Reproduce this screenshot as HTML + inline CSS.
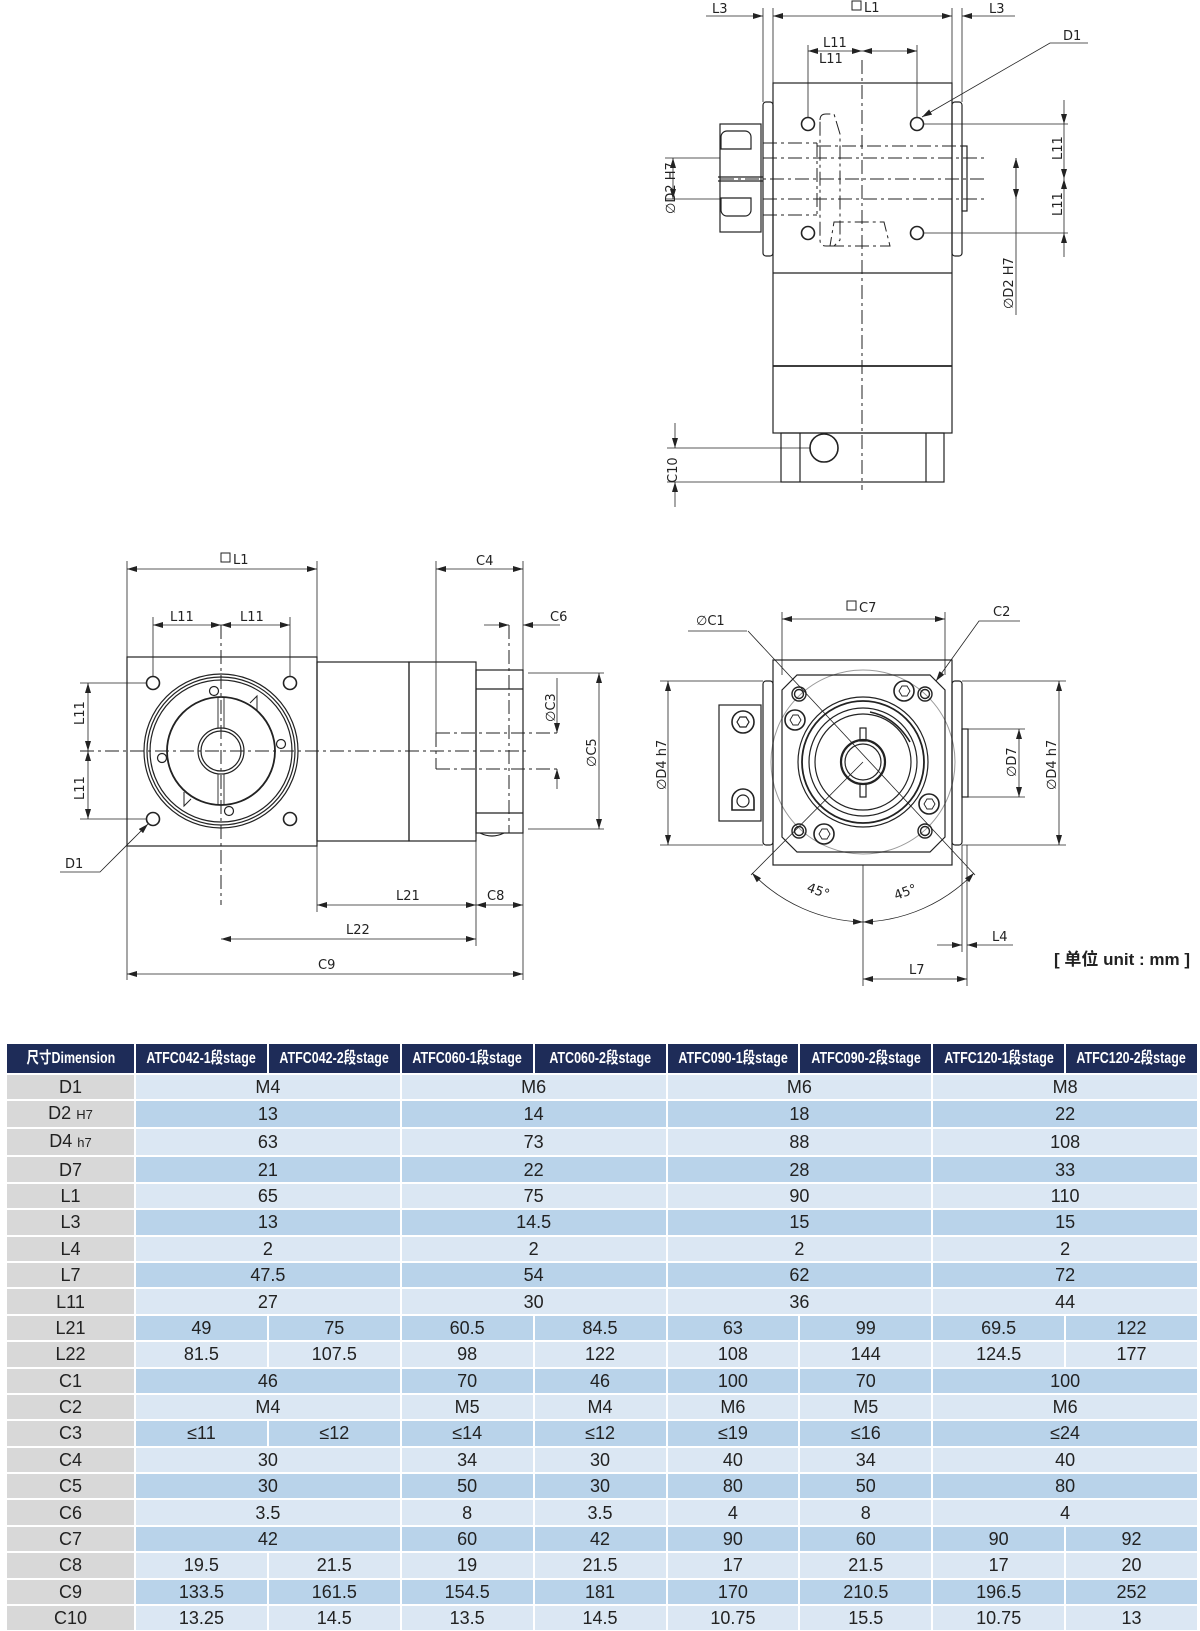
<!DOCTYPE html>
<html><head><meta charset="utf-8">
<style>
html,body{margin:0;padding:0;background:#fff;}
body{width:1200px;height:1631px;position:relative;overflow:hidden;}
svg{position:absolute;left:0;top:0;}
svg text{font-family:"DejaVu Sans","Liberation Sans",sans-serif;font-size:13px;fill:#222;}
table{position:absolute;left:6px;top:1043px;width:1192px;border-collapse:separate;border-spacing:0;table-layout:fixed;}
td,th{border:1px solid #fff;padding:0;text-align:center;font-family:"Liberation Sans",sans-serif;font-size:18px;color:#222;height:24.4px;line-height:24px;}
th{background:#1e2c58;color:#fff;font-family:"Liberation Sans","Noto Sans CJK SC",sans-serif;font-weight:bold;font-size:16px;height:29px;white-space:nowrap;overflow:hidden;}
th span{display:inline-block;transform:scaleX(0.78);transform-origin:center;margin:0 -20px;}
td.l{background:#d8d8d8;}
tr.a td{background:#dbe7f3;}
tr.b td{background:#b9d3ea;}
tr.a td.l,tr.b td.l{background:#d8d8d8;}
small{font-size:13px;}
.u{position:absolute;left:1054px;top:945px;font-family:"Liberation Sans","Noto Sans CJK SC",sans-serif;font-weight:bold;font-size:17px;color:#222;}
</style></head><body>
<svg width="1200" height="1040" viewBox="0 0 1200 1040">
<defs>
<marker id="a" viewBox="0 0 10 6" refX="10" refY="3" markerWidth="10" markerHeight="6" orient="auto-start-reverse" markerUnits="userSpaceOnUse"><path d="M0,0L10,3L0,6z" fill="#222"/></marker>
</defs>
<g fill="none" stroke="#222" stroke-width="1.2">
<rect x="773" y="83" width="179" height="350"/>
<line x1="773" y1="273" x2="952" y2="273"/>
<line x1="773" y1="366" x2="952" y2="366" stroke-width="1.8"/>
<rect x="763" y="102" width="10" height="154" rx="3"/>
<rect x="952" y="102" width="10" height="154" rx="3"/>
<rect x="720" y="124" width="41" height="108"/>
<path d="M727,131h18a6,6 0 0 1 6,6v12h-30v-12a6,6 0 0 1 6,-6z"/>
<path d="M721,198h30v12a6,6 0 0 1 -6,6h-18a6,6 0 0 1 -6,-6z"/>
<line x1="718" y1="177" x2="763" y2="177"/><line x1="718" y1="181" x2="763" y2="181"/>
<rect x="962" y="146" width="5" height="65"/>
<rect x="781" y="433" width="163" height="49"/>
<line x1="800" y1="433" x2="800" y2="482"/><line x1="926" y1="433" x2="926" y2="482"/>
<circle cx="824" cy="448" r="14" stroke-width="1.6"/>
<circle cx="808" cy="124" r="6.5" stroke-width="1.6"/><circle cx="917" cy="124" r="6.5" stroke-width="1.6"/>
<circle cx="808" cy="233" r="6.5" stroke-width="1.6"/><circle cx="917" cy="233" r="6.5" stroke-width="1.6"/>
<g stroke-dasharray="14,4,3,4" stroke-width="1">
<line x1="862" y1="60" x2="862" y2="490"/>
<line x1="720" y1="179" x2="985" y2="179"/>
<line x1="763" y1="158" x2="985" y2="158"/>
<line x1="763" y1="199" x2="985" y2="199"/>
<line x1="763" y1="143" x2="817" y2="143"/><line x1="763" y1="215" x2="817" y2="215"/>
<line x1="817" y1="143" x2="817" y2="215"/>
<line x1="817" y1="146" x2="966" y2="146"/>
<path d="M820,120q0,-6 6,-6h8l6,20v106l-6,6h-8q-6,0 -6,-6z"/>
<path d="M830,246h60l-6,-24h-50z"/>
</g>
<line x1="763" y1="8" x2="763" y2="102" stroke-width="0.8"/><line x1="773" y1="8" x2="773" y2="83" stroke-width="0.8"/>
<line x1="952" y1="8" x2="952" y2="83" stroke-width="0.8"/><line x1="962" y1="8" x2="962" y2="102" stroke-width="0.8"/>
<line x1="706" y1="16" x2="763" y2="16" stroke-width="0.8" marker-end="url(#a)"/>
<line x1="773" y1="16" x2="952" y2="16" stroke-width="0.8" marker-start="url(#a)" marker-end="url(#a)"/>
<line x1="1015" y1="16" x2="962" y2="16" stroke-width="0.8" marker-end="url(#a)"/>
<line x1="808" y1="45" x2="808" y2="118" stroke-width="0.8"/><line x1="917" y1="45" x2="917" y2="118" stroke-width="0.8"/>
<line x1="808" y1="51" x2="862" y2="51" stroke-width="0.8" marker-start="url(#a)" marker-end="url(#a)"/>
<line x1="862" y1="51" x2="917" y2="51" stroke-width="0.8" marker-start="url(#a)" marker-end="url(#a)"/>
<path d="M1088,43H1050L922,117" stroke-width="0.8" marker-end="url(#a)"/>
<line x1="924" y1="124" x2="1068" y2="124" stroke-width="0.8"/><line x1="924" y1="233" x2="1068" y2="233" stroke-width="0.8"/>
<line x1="1064" y1="100" x2="1064" y2="124" stroke-width="0.8" marker-end="url(#a)"/>
<line x1="1064" y1="124" x2="1064" y2="179" stroke-width="0.8" marker-end="url(#a)"/>
<line x1="1064" y1="233" x2="1064" y2="179" stroke-width="0.8" marker-end="url(#a)"/>
<line x1="1064" y1="257" x2="1064" y2="233" stroke-width="0.8" marker-end="url(#a)"/>
<line x1="1016" y1="158" x2="1016" y2="315" stroke-width="0.8"/>
<line x1="1016" y1="185" x2="1016" y2="158" stroke-width="0.8" marker-end="url(#a)"/>
<line x1="1016" y1="185" x2="1016" y2="199" stroke-width="0.8" marker-end="url(#a)"/>
<line x1="665" y1="158" x2="720" y2="158" stroke-width="0.8"/><line x1="665" y1="199" x2="720" y2="199" stroke-width="0.8"/>
<line x1="673" y1="178" x2="673" y2="158" stroke-width="0.8" marker-end="url(#a)"/>
<line x1="673" y1="178" x2="673" y2="199" stroke-width="0.8" marker-end="url(#a)"/>
<line x1="667" y1="448" x2="810" y2="448" stroke-width="0.8"/><line x1="667" y1="482" x2="781" y2="482" stroke-width="0.8"/>
<line x1="675" y1="423" x2="675" y2="448" stroke-width="0.8" marker-end="url(#a)"/>
<line x1="675" y1="507" x2="675" y2="482" stroke-width="0.8" marker-end="url(#a)"/>

<rect x="127" y="657" width="190" height="189"/>
<circle cx="221" cy="751" r="77"/><circle cx="221" cy="751" r="74"/><circle cx="221" cy="751" r="71"/>
<circle cx="221" cy="751" r="54" stroke-width="1.8"/>
<circle cx="221" cy="751" r="23"/><circle cx="221" cy="751" r="20"/>
<path d="M250,703l7,-7v14M191,799l-7,7v-14" stroke-width="1"/>
<rect x="218" y="697" width="6" height="31" stroke-width="0.9"/><rect x="218" y="774" width="6" height="31" stroke-width="0.9"/>
<circle cx="214" cy="691" r="4.5"/><circle cx="281" cy="744" r="4.5"/><circle cx="162" cy="758" r="4.5"/><circle cx="229" cy="811" r="4.5"/>
<circle cx="153" cy="683" r="6.5" stroke-width="1.6"/><circle cx="290" cy="683" r="6.5" stroke-width="1.6"/>
<circle cx="153" cy="819" r="6.5" stroke-width="1.6"/><circle cx="290" cy="819" r="6.5" stroke-width="1.6"/>
<rect x="317" y="662" width="92" height="179"/>
<rect x="409" y="662" width="67" height="179"/>
<rect x="476" y="670" width="47" height="163"/>
<line x1="476" y1="689" x2="523" y2="689"/><line x1="476" y1="813" x2="523" y2="813"/>
<path d="M480,833q12,6 24,0" />
<g stroke-dasharray="14,4,3,4" stroke-width="1">
<line x1="80" y1="751" x2="530" y2="751"/>
<line x1="221" y1="625" x2="221" y2="905"/>
<line x1="509" y1="625" x2="509" y2="833"/>
<line x1="436" y1="733" x2="560" y2="733"/><line x1="436" y1="769" x2="560" y2="769"/>
<line x1="436" y1="733" x2="436" y2="769"/>
</g>
<g stroke-width="0.8">
<line x1="127" y1="561" x2="127" y2="980"/><line x1="317" y1="561" x2="317" y2="657"/>
<line x1="127" y1="569" x2="317" y2="569" marker-start="url(#a)" marker-end="url(#a)"/>
<line x1="436" y1="561" x2="436" y2="733"/><line x1="523" y1="561" x2="523" y2="980"/>
<line x1="436" y1="569" x2="523" y2="569" marker-start="url(#a)" marker-end="url(#a)"/>
<line x1="153" y1="617" x2="153" y2="677"/><line x1="290" y1="617" x2="290" y2="677"/>
<line x1="153" y1="625" x2="221" y2="625" marker-start="url(#a)" marker-end="url(#a)"/>
<line x1="221" y1="625" x2="290" y2="625" marker-start="url(#a)" marker-end="url(#a)"/>
<line x1="484" y1="625" x2="509" y2="625" marker-end="url(#a)"/>
<line x1="560" y1="625" x2="523" y2="625" marker-end="url(#a)"/>
<line x1="80" y1="683" x2="147" y2="683"/><line x1="80" y1="819" x2="147" y2="819"/>
<line x1="88" y1="683" x2="88" y2="751" marker-start="url(#a)" marker-end="url(#a)"/>
<line x1="88" y1="751" x2="88" y2="819" marker-start="url(#a)" marker-end="url(#a)"/>
<path d="M60,872H100L148,824" marker-end="url(#a)"/>
<line x1="317" y1="846" x2="317" y2="912"/><line x1="476" y1="841" x2="476" y2="946"/>
<line x1="317" y1="905" x2="476" y2="905" marker-start="url(#a)" marker-end="url(#a)"/>
<line x1="476" y1="905" x2="523" y2="905" marker-start="url(#a)" marker-end="url(#a)"/>
<line x1="221" y1="939" x2="476" y2="939" marker-start="url(#a)" marker-end="url(#a)"/>
<line x1="127" y1="974" x2="523" y2="974" marker-start="url(#a)" marker-end="url(#a)"/>
<line x1="528" y1="673" x2="604" y2="673"/><line x1="528" y1="829" x2="604" y2="829"/>
<line x1="599" y1="673" x2="599" y2="829" marker-start="url(#a)" marker-end="url(#a)"/>
<line x1="557" y1="678" x2="557" y2="733" marker-end="url(#a)"/>
<line x1="557" y1="789" x2="557" y2="769" marker-end="url(#a)"/>
</g>

<circle cx="863" cy="762" r="92" stroke="#999" stroke-width="1"/>
<rect x="773" y="660" width="179" height="205"/>
<path d="M797,675H930L945,690V837L930,852H797L782,837V690z"/>
<rect x="763" y="681" width="10" height="164" rx="3"/>
<rect x="952" y="681" width="10" height="164" rx="3"/>
<rect x="719" y="705" width="42" height="116"/>
<circle cx="743" cy="722" r="11" stroke-width="1.6"/><path d="M737,722l3,-5h6l3,5l-3,5h-6z"/>
<path d="M732,800a11,11 0 1 1 22,0v10h-22z" stroke-width="1.6"/><circle cx="743" cy="801" r="6"/>
<rect x="962" y="729" width="6" height="68"/>
<circle cx="863" cy="762" r="65"/><circle cx="863" cy="762" r="61" stroke-width="1.8"/>
<circle cx="863" cy="762" r="54"/><circle cx="863" cy="762" r="48"/>
<circle cx="863" cy="762" r="22" stroke-width="2.2"/><circle cx="863" cy="762" r="18"/>
<rect x="860" y="728" width="6" height="13"/><rect x="860" y="784" width="6" height="13"/>
<path d="M870,712q25,5 40,30" stroke-width="1.6"/>
<g stroke-width="1.6">
<circle cx="795" cy="720" r="10"/><circle cx="904" cy="691" r="10"/><circle cx="929" cy="804" r="10"/><circle cx="824" cy="834" r="10"/>
</g>
<path d="M790,720l3,-5h5l3,5l-3,5h-5zM899,691l3,-5h5l3,5l-3,5h-5zM924,804l3,-5h5l3,5l-3,5h-5zM819,834l3,-5h5l3,5l-3,5h-5z" stroke-width="0.9"/>
<g stroke-width="1.4">
<circle cx="799" cy="694" r="7"/><circle cx="925" cy="694" r="7"/><circle cx="799" cy="831" r="7"/><circle cx="925" cy="831" r="7"/>
<circle cx="799" cy="694" r="4.5"/><circle cx="925" cy="694" r="4.5"/><circle cx="799" cy="831" r="4.5"/><circle cx="925" cy="831" r="4.5"/>
</g>
<g stroke-width="0.8">
<line x1="748" y1="631" x2="975" y2="875"/>
<line x1="751" y1="875" x2="863" y2="762"/>
<path d="M688,631H747"/>
<path d="M1020,621H979L936,681" marker-end="url(#a)"/>
<line x1="782" y1="612" x2="782" y2="675"/><line x1="945" y1="612" x2="945" y2="675"/>
<line x1="782" y1="619" x2="945" y2="619" marker-start="url(#a)" marker-end="url(#a)"/>
<line x1="660" y1="681" x2="763" y2="681"/><line x1="660" y1="845" x2="763" y2="845"/>
<line x1="668" y1="681" x2="668" y2="845" marker-start="url(#a)" marker-end="url(#a)"/>
<line x1="962" y1="681" x2="1066" y2="681"/><line x1="962" y1="845" x2="1066" y2="845"/>
<line x1="1059" y1="681" x2="1059" y2="845" marker-start="url(#a)" marker-end="url(#a)"/>
<line x1="968" y1="729" x2="1025" y2="729"/><line x1="968" y1="797" x2="1025" y2="797"/>
<line x1="1019" y1="729" x2="1019" y2="797" marker-start="url(#a)" marker-end="url(#a)"/>
<line x1="863" y1="865" x2="863" y2="986"/>
<line x1="962" y1="845" x2="962" y2="952"/><line x1="967" y1="845" x2="967" y2="986"/>
<path d="M752,873A160,160 0 0 0 863,922" marker-start="url(#a)" marker-end="url(#a)"/>
<path d="M974,873A160,160 0 0 1 863,922" marker-start="url(#a)" marker-end="url(#a)"/>
<line x1="937" y1="945" x2="962" y2="945" marker-end="url(#a)"/>
<line x1="1013" y1="945" x2="967" y2="945" marker-end="url(#a)"/>
<line x1="863" y1="979" x2="967" y2="979" marker-start="url(#a)" marker-end="url(#a)"/>
</g>
</g>
<g>
<text x="712" y="13">L3</text>
<rect x="852" y="1" width="9" height="9" fill="none" stroke="#222" stroke-width="1"/><text x="864" y="12">L1</text>
<text x="989" y="13">L3</text>
<text x="1063" y="40">D1</text>
<text x="823" y="47">L11</text><text x="819" y="63">L11</text>
<text transform="translate(1062,160) rotate(-90)">L11</text>
<text transform="translate(1062,216) rotate(-90)">L11</text>
<text transform="translate(675,214) rotate(-90)">∅D2 H7</text>
<text transform="translate(1013,309) rotate(-90)">∅D2 H7</text>
<text transform="translate(677,483) rotate(-90)">C10</text>
<rect x="221" y="553" width="9" height="9" fill="none" stroke="#222" stroke-width="1"/><text x="233" y="564">L1</text>
<text x="476" y="565">C4</text>
<text x="170" y="621">L11</text><text x="240" y="621">L11</text>
<text x="550" y="621">C6</text>
<text transform="translate(84,725) rotate(-90)">L11</text>
<text transform="translate(84,800) rotate(-90)">L11</text>
<text x="65" y="868">D1</text>
<text transform="translate(555,722) rotate(-90)">∅C3</text>
<text transform="translate(596,767) rotate(-90)">∅C5</text>
<text x="396" y="900">L21</text><text x="487" y="900">C8</text>
<text x="346" y="934">L22</text><text x="318" y="969">C9</text>
<text x="696" y="625">∅C1</text>
<rect x="847" y="601" width="9" height="9" fill="none" stroke="#222" stroke-width="1"/><text x="859" y="612">C7</text>
<text x="993" y="616">C2</text>
<text transform="translate(666,790) rotate(-90)">∅D4 h7</text>
<text transform="translate(1056,790) rotate(-90)">∅D4 h7</text>
<text transform="translate(1016,777) rotate(-90)">∅D7</text>
<text transform="translate(806,891) rotate(20)" font-size="11">45°</text>
<text transform="translate(896,900) rotate(-20)" font-size="11">45°</text>
<text x="992" y="941">L4</text>
<text x="909" y="974">L7</text>
</g>
</svg>
<div class="u">[ 单位 unit : mm ]</div>
<table>
<colgroup><col style="width:129px"><col><col><col><col><col><col><col><col></colgroup>
<tr><th><span>尺寸Dimension</span></th><th><span>ATFC042-1段stage</span></th><th><span>ATFC042-2段stage</span></th><th><span>ATFC060-1段stage</span></th><th><span>ATC060-2段stage</span></th><th><span>ATFC090-1段stage</span></th><th><span>ATFC090-2段stage</span></th><th><span>ATFC120-1段stage</span></th><th><span>ATFC120-2段stage</span></th></tr>
<tr class="a"><td class="l">D1</td><td colspan="2">M4</td><td colspan="2">M6</td><td colspan="2">M6</td><td colspan="2">M8</td></tr>
<tr class="b"><td class="l">D2 <small>H7</small></td><td colspan="2">13</td><td colspan="2">14</td><td colspan="2">18</td><td colspan="2">22</td></tr>
<tr class="a"><td class="l">D4 <small>h7</small></td><td colspan="2">63</td><td colspan="2">73</td><td colspan="2">88</td><td colspan="2">108</td></tr>
<tr class="b"><td class="l">D7</td><td colspan="2">21</td><td colspan="2">22</td><td colspan="2">28</td><td colspan="2">33</td></tr>
<tr class="a"><td class="l">L1</td><td colspan="2">65</td><td colspan="2">75</td><td colspan="2">90</td><td colspan="2">110</td></tr>
<tr class="b"><td class="l">L3</td><td colspan="2">13</td><td colspan="2">14.5</td><td colspan="2">15</td><td colspan="2">15</td></tr>
<tr class="a"><td class="l">L4</td><td colspan="2">2</td><td colspan="2">2</td><td colspan="2">2</td><td colspan="2">2</td></tr>
<tr class="b"><td class="l">L7</td><td colspan="2">47.5</td><td colspan="2">54</td><td colspan="2">62</td><td colspan="2">72</td></tr>
<tr class="a"><td class="l">L11</td><td colspan="2">27</td><td colspan="2">30</td><td colspan="2">36</td><td colspan="2">44</td></tr>
<tr class="b"><td class="l">L21</td><td>49</td><td>75</td><td>60.5</td><td>84.5</td><td>63</td><td>99</td><td>69.5</td><td>122</td></tr>
<tr class="a"><td class="l">L22</td><td>81.5</td><td>107.5</td><td>98</td><td>122</td><td>108</td><td>144</td><td>124.5</td><td>177</td></tr>
<tr class="b"><td class="l">C1</td><td colspan="2">46</td><td>70</td><td>46</td><td>100</td><td>70</td><td colspan="2">100</td></tr>
<tr class="a"><td class="l">C2</td><td colspan="2">M4</td><td>M5</td><td>M4</td><td>M6</td><td>M5</td><td colspan="2">M6</td></tr>
<tr class="b"><td class="l">C3</td><td>≤11</td><td>≤12</td><td>≤14</td><td>≤12</td><td>≤19</td><td>≤16</td><td colspan="2">≤24</td></tr>
<tr class="a"><td class="l">C4</td><td colspan="2">30</td><td>34</td><td>30</td><td>40</td><td>34</td><td colspan="2">40</td></tr>
<tr class="b"><td class="l">C5</td><td colspan="2">30</td><td>50</td><td>30</td><td>80</td><td>50</td><td colspan="2">80</td></tr>
<tr class="a"><td class="l">C6</td><td colspan="2">3.5</td><td>8</td><td>3.5</td><td>4</td><td>8</td><td colspan="2">4</td></tr>
<tr class="b"><td class="l">C7</td><td colspan="2">42</td><td>60</td><td>42</td><td>90</td><td>60</td><td>90</td><td>92</td></tr>
<tr class="a"><td class="l">C8</td><td>19.5</td><td>21.5</td><td>19</td><td>21.5</td><td>17</td><td>21.5</td><td>17</td><td>20</td></tr>
<tr class="b"><td class="l">C9</td><td>133.5</td><td>161.5</td><td>154.5</td><td>181</td><td>170</td><td>210.5</td><td>196.5</td><td>252</td></tr>
<tr class="a"><td class="l">C10</td><td>13.25</td><td>14.5</td><td>13.5</td><td>14.5</td><td>10.75</td><td>15.5</td><td>10.75</td><td>13</td></tr>
</table>
</body></html>
